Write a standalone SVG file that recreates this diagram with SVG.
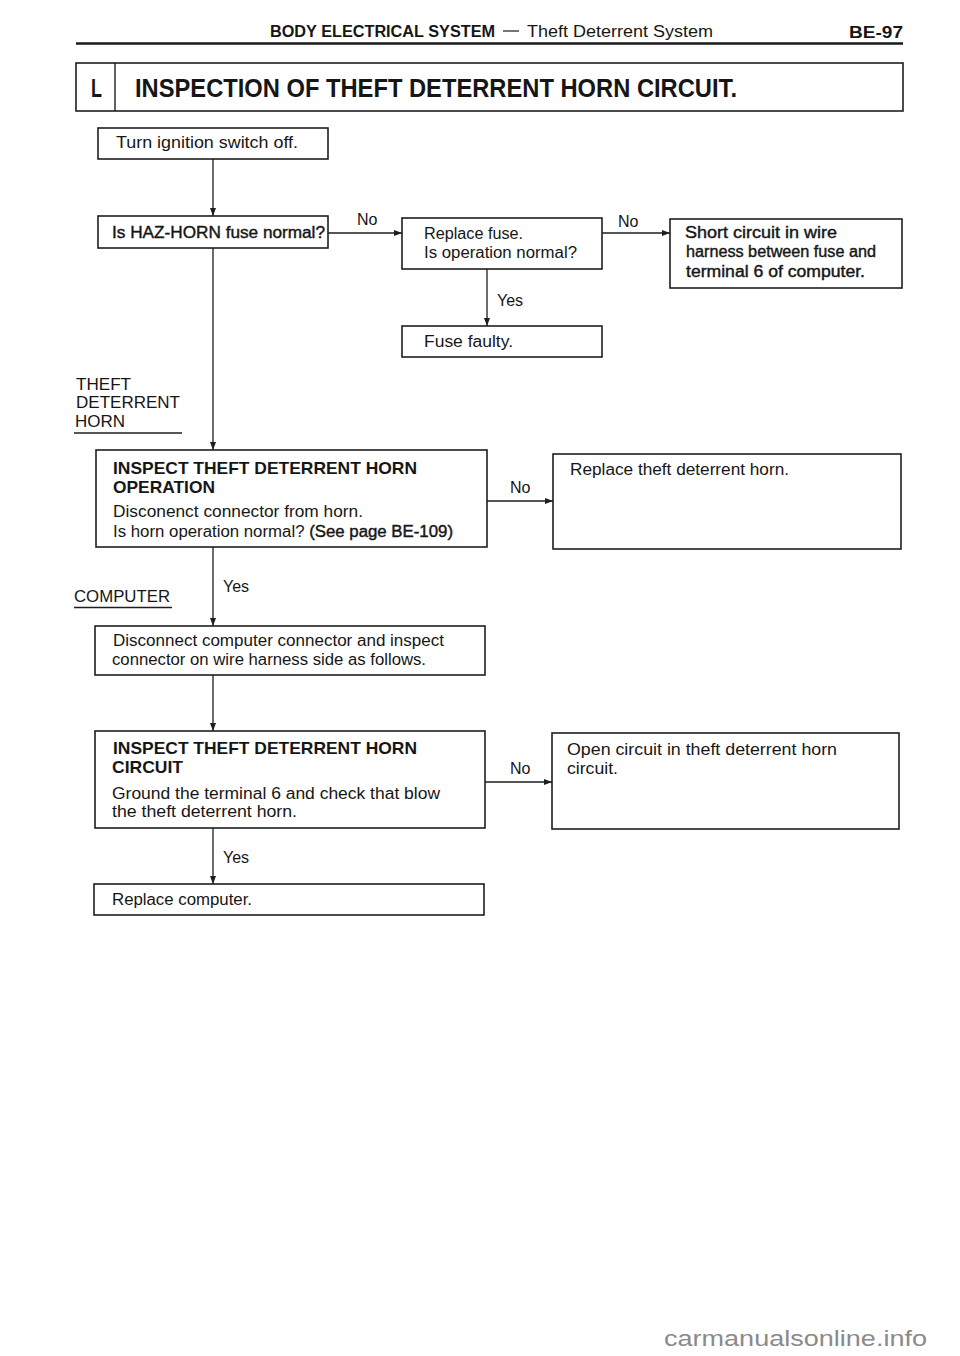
<svg xmlns="http://www.w3.org/2000/svg" width="960" height="1356" viewBox="0 0 960 1356">
<style>
  text { font-family: "Liberation Sans", Arial, sans-serif; fill: #161616; }
  .t { font-size: 16px; }
  .b { font-size: 17px; font-weight: bold; }
  .med { stroke: #161616; stroke-width: 0.4px; }
  .lbl { font-size: 16px; }
  .box { fill: #ffffff; stroke: #1e1e1e; stroke-width: 1.6; }
  .con { fill: none; stroke: #1e1e1e; stroke-width: 1.3; }
  .rule { stroke: #1a1a1a; }
  .wm { font-family: "Liberation Sans", Arial, sans-serif; fill: #8a8a8a; font-size: 22px; }
</style>
<defs>
  <marker id="ah" markerUnits="userSpaceOnUse" markerWidth="9" markerHeight="7" refX="8" refY="3" orient="auto">
    <path d="M0,0 L8,3 L0,6 z" fill="#1e1e1e"/>
  </marker>
</defs>
<rect width="960" height="1356" fill="#ffffff"/>

<g id="header">
  <text x="270" y="37" font-size="16" font-weight="bold" textLength="225" lengthAdjust="spacingAndGlyphs">BODY ELECTRICAL SYSTEM</text>
  <line x1="503" y1="31" x2="519" y2="31" stroke="#1a1a1a" stroke-width="1.2"/>
  <text x="527" y="37" font-size="16" textLength="186" lengthAdjust="spacingAndGlyphs">Theft Deterrent System</text>
  <text x="849" y="38" font-size="16" font-weight="bold" textLength="54" lengthAdjust="spacingAndGlyphs">BE-97</text>
  <line class="rule" x1="76" y1="43.5" x2="903" y2="43.5" stroke-width="2.6"/>
</g>

<g id="title">
  <rect x="76" y="63" width="827" height="48" fill="none" stroke="#1e1e1e" stroke-width="1.6"/>
  <line x1="115" y1="63" x2="115" y2="111" stroke="#1e1e1e" stroke-width="1.4"/>
  <text x="91" y="97" font-size="25" font-weight="bold" textLength="11" lengthAdjust="spacingAndGlyphs">L</text>
  <text x="135" y="97" font-size="25" font-weight="bold" textLength="602" lengthAdjust="spacingAndGlyphs">INSPECTION OF THEFT DETERRENT HORN CIRCUIT.</text>
</g>

<g id="connectors">
  <path class="con" d="M213,159 V216" marker-end="url(#ah)"/>
  <path class="con" d="M328,233 H402" marker-end="url(#ah)"/>
  <path class="con" d="M602,233 H670" marker-end="url(#ah)"/>
  <path class="con" d="M487,269 V326" marker-end="url(#ah)"/>
  <path class="con" d="M213,248 V450" marker-end="url(#ah)"/>
  <path class="con" d="M487,501 H553" marker-end="url(#ah)"/>
  <path class="con" d="M213,547 V626" marker-end="url(#ah)"/>
  <path class="con" d="M213,675 V731" marker-end="url(#ah)"/>
  <path class="con" d="M485,782 H552" marker-end="url(#ah)"/>
  <path class="con" d="M213,828 V884" marker-end="url(#ah)"/>
  <text class="lbl" x="357" y="225">No</text>
  <text class="lbl" x="618" y="227">No</text>
  <text class="lbl" x="497" y="306">Yes</text>
  <text class="lbl" x="510" y="493">No</text>
  <text class="lbl" x="223" y="592">Yes</text>
  <text class="lbl" x="510" y="774">No</text>
  <text class="lbl" x="223" y="863">Yes</text>
</g>

<g id="side-labels">
  <text class="t" x="76" y="390" textLength="55" lengthAdjust="spacingAndGlyphs">THEFT</text>
  <text class="t" x="76" y="408" textLength="104" lengthAdjust="spacingAndGlyphs">DETERRENT</text>
  <text class="t" x="75" y="427" textLength="50" lengthAdjust="spacingAndGlyphs">HORN</text>
  <line x1="74" y1="433" x2="182" y2="433" stroke="#1e1e1e" stroke-width="1.3"/>
  <text class="t" x="74" y="602" textLength="96" lengthAdjust="spacingAndGlyphs">COMPUTER</text>
  <line x1="74" y1="607.5" x2="172" y2="607.5" stroke="#1e1e1e" stroke-width="1.3"/>
</g>

<g id="turn-ignition">
  <rect class="box" x="98" y="128" width="230" height="31"/>
  <text class="t" x="116" y="148" textLength="182" lengthAdjust="spacingAndGlyphs">Turn ignition switch off.</text>
</g>

<g id="haz-fuse">
  <rect class="box" x="98" y="216" width="230" height="32"/>
  <text class="t med" x="112" y="238" textLength="213" lengthAdjust="spacingAndGlyphs">Is HAZ-HORN fuse normal?</text>
</g>

<g id="replace-fuse">
  <rect class="box" x="402" y="218" width="200" height="51"/>
  <text class="t" x="424" y="239" textLength="99" lengthAdjust="spacingAndGlyphs">Replace fuse.</text>
  <text class="t" x="424" y="258" textLength="153" lengthAdjust="spacingAndGlyphs">Is operation normal?</text>
</g>

<g id="short-circuit">
  <rect class="box" x="670" y="219" width="232" height="69"/>
  <text class="t med" x="685" y="238" textLength="152" lengthAdjust="spacingAndGlyphs">Short circuit in wire</text>
  <text class="t med" x="686" y="257" textLength="190" lengthAdjust="spacingAndGlyphs">harness between fuse and</text>
  <text class="t med" x="686" y="277" textLength="179" lengthAdjust="spacingAndGlyphs">terminal 6 of computer.</text>
</g>

<g id="fuse-faulty">
  <rect class="box" x="402" y="326" width="200" height="31"/>
  <text class="t" x="424" y="347" textLength="89" lengthAdjust="spacingAndGlyphs">Fuse faulty.</text>
</g>

<g id="inspect-operation">
  <rect class="box" x="96" y="450" width="391" height="97"/>
  <text class="b" x="113" y="474" textLength="304" lengthAdjust="spacingAndGlyphs">INSPECT THEFT DETERRENT HORN</text>
  <text class="b" x="113" y="493" textLength="102" lengthAdjust="spacingAndGlyphs">OPERATION</text>
  <text class="t" x="113" y="517" textLength="250" lengthAdjust="spacingAndGlyphs">Disconenct connector from horn.</text>
  <text class="t" x="113" y="537" textLength="340" lengthAdjust="spacingAndGlyphs">Is horn operation normal? <tspan class="med">(See page BE-109)</tspan></text>
</g>

<g id="replace-horn">
  <rect class="box" x="553" y="454" width="348" height="95"/>
  <text class="t" x="570" y="475" textLength="219" lengthAdjust="spacingAndGlyphs">Replace theft deterrent horn.</text>
</g>

<g id="disconnect-computer">
  <rect class="box" x="95" y="626" width="390" height="49"/>
  <text class="t" x="113" y="646" textLength="331" lengthAdjust="spacingAndGlyphs">Disconnect computer connector and inspect</text>
  <text class="t" x="112" y="665" textLength="314" lengthAdjust="spacingAndGlyphs">connector on wire harness side as follows.</text>
</g>

<g id="inspect-circuit">
  <rect class="box" x="95" y="731" width="390" height="97"/>
  <text class="b" x="113" y="754" textLength="304" lengthAdjust="spacingAndGlyphs">INSPECT THEFT DETERRENT HORN</text>
  <text class="b" x="112" y="773" textLength="71" lengthAdjust="spacingAndGlyphs">CIRCUIT</text>
  <text class="t" x="112" y="799" textLength="328" lengthAdjust="spacingAndGlyphs">Ground the terminal 6 and check that blow</text>
  <text class="t" x="112" y="817" textLength="185" lengthAdjust="spacingAndGlyphs">the theft deterrent horn.</text>
</g>

<g id="open-circuit">
  <rect class="box" x="552" y="733" width="347" height="96"/>
  <text class="t" x="567" y="755" textLength="270" lengthAdjust="spacingAndGlyphs">Open circuit in theft deterrent horn</text>
  <text class="t" x="567" y="774" textLength="51" lengthAdjust="spacingAndGlyphs">circuit.</text>
</g>

<g id="replace-computer">
  <rect class="box" x="94" y="884" width="390" height="31"/>
  <text class="t" x="112" y="905" textLength="140" lengthAdjust="spacingAndGlyphs">Replace computer.</text>
</g>

<text class="wm" x="664" y="1346" textLength="263" lengthAdjust="spacingAndGlyphs">carmanualsonline.info</text>
</svg>
